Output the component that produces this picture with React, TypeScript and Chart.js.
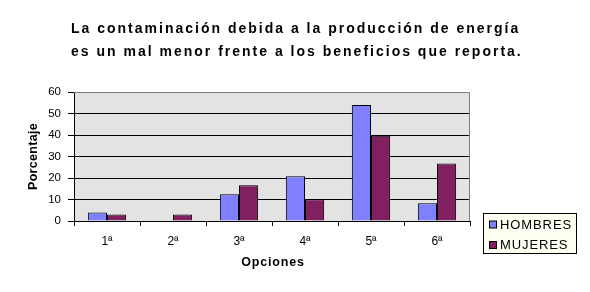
import React, { useEffect, useRef } from "react";
import { Chart, registerables } from "chart.js";

Chart.register(...registerables);

const categories = ["1ª", "2ª", "3ª", "4ª", "5ª", "6ª"];
const hombres = [4, 0, 12.4, 20.8, 54, 8.2];
const mujeres = [3, 3, 16.6, 10.1, 39.7, 26.8];
const seriesNames = ["HOMBRES", "MUJERES"];
const titleLines = [
  "La contaminación debida a la producción de energía",
  "es un mal menor frente a los beneficios que reporta.",
];
const yTitle = "Porcentaje";
const xTitle = "Opciones";
const yTicks = [0, 10, 20, 30, 40, 50, 60];

const FONT = "'Liberation Sans', Arial, sans-serif";
const COLORS = ["#8080FF", "#802060"];

const decorPlugin = {
  id: "decor",
  beforeDraw(chart: any) {
    const { ctx, chartArea: a } = chart;
    ctx.save();
    ctx.fillStyle = "#E3E3E3";
    ctx.fillRect(a.left, a.top, a.right - a.left, a.bottom - a.top);
    ctx.restore();
  },
  afterDraw(chart: any) {
    const { ctx, chartArea: a } = chart;
    ctx.save();
    ctx.strokeStyle = "#808080";
    ctx.lineWidth = 1;
    ctx.beginPath();
    ctx.moveTo(a.left, a.top + 0.5);
    ctx.lineTo(a.right - 0.5, a.top + 0.5);
    ctx.lineTo(a.right - 0.5, a.bottom);
    ctx.stroke();

    ctx.fillStyle = "#000";
    ctx.textAlign = "left";
    ctx.textBaseline = "alphabetic";
    ctx.font = `bold 14px ${FONT}`;
    (ctx as any).letterSpacing = "2px";
    ctx.fillText(titleLines[0], 71, 32.5);
    ctx.fillText(titleLines[1], 71, 55.5);

    ctx.font = `bold 12.5px ${FONT}`;
    (ctx as any).letterSpacing = "0.8px";
    ctx.textAlign = "center";
    ctx.fillText(xTitle, (a.left + a.right) / 2 + 1, 266);

    (ctx as any).letterSpacing = "0.3px";
    ctx.save();
    ctx.translate(36.5, (a.top + a.bottom) / 2);
    ctx.rotate(-Math.PI / 2);
    ctx.textAlign = "center";
    ctx.fillText(yTitle, 0, 0);
    ctx.restore();

    const lx = 483, ly = 213, lw = 94, lh = 41;
    ctx.fillStyle = "#FFFFF2";
    ctx.fillRect(lx, ly, lw, lh);
    ctx.strokeStyle = "#000";
    ctx.strokeRect(lx + 0.5, ly + 0.5, lw - 1, lh - 1);
    ctx.font = `13px ${FONT}`;
    (ctx as any).letterSpacing = "0.9px";
    ctx.textAlign = "left";
    ctx.textBaseline = "middle";
    const rows = [224.5, 245];
    chart.data.datasets.forEach((ds: any, i: number) => {
      const cy = rows[i];
      ctx.fillStyle = ds.backgroundColor;
      ctx.fillRect(489, cy - 3.5, 8, 7);
      ctx.strokeStyle = "#000";
      ctx.strokeRect(489.5, cy - 3.5, 7, 7);
      ctx.fillStyle = "#000";
      ctx.fillText(ds.label, 500, cy + 0.5);
    });
    (ctx as any).letterSpacing = "0px";
    ctx.restore();
  },
};

export default function App() {
  const ref = useRef<HTMLCanvasElement | null>(null);
  useEffect(() => {
    if (!ref.current) return;
    const chart = new Chart(ref.current, {
      type: "bar",
      data: {
        labels: categories,
        datasets: [
          {
            label: seriesNames[0],
            data: hombres,
            backgroundColor: COLORS[0],
            borderColor: "#000",
            borderWidth: 1,
            categoryPercentage: 0.58,
            barPercentage: 1,
          },
          {
            label: seriesNames[1],
            data: mujeres,
            backgroundColor: COLORS[1],
            borderColor: "#000",
            borderWidth: 1,
            categoryPercentage: 0.58,
            barPercentage: 1,
          },
        ],
      },
      options: {
        animation: false,
        responsive: false,
        maintainAspectRatio: false,
        layout: { padding: { left: 0, top: 92, right: 120, bottom: 0 } },
        plugins: {
          legend: { display: false },
          title: { display: false },
          tooltip: { enabled: false },
        },
        scales: {
          x: {
            offset: true,
            grid: {
              offset: true,
              drawOnChartArea: false,
              drawTicks: true,
              tickLength: 5,
              color: "#000",
            },
            border: { color: "#000", width: 1 },
            ticks: {
              color: "#000",
              font: { family: FONT, size: 12 },
              padding: 8,
              maxRotation: 0,
            },
            afterFit(scale: any) {
              scale.height = 71;
            },
          },
          y: {
            min: 0,
            max: 60,
            afterBuildTicks(scale: any) {
              scale.ticks = yTicks.map((v) => ({ value: v }));
            },
            grid: {
              color: (c: any) => (c.tick && c.tick.value === 60 ? "#808080" : "#000"),
              tickColor: "#000",
              tickLength: 6,
              drawTicks: true,
            },
            border: { color: "#000", width: 1 },
            ticks: {
              color: "#000",
              font: { family: FONT, size: 11.5 },
              padding: 7,
            },
            afterFit(scale: any) {
              scale.width = 74;
            },
          },
        },
      },
      plugins: [decorPlugin],
    });
    return () => chart.destroy();
  }, []);
  return (
    <div style={{ position: "absolute", left: 0, top: 0, width: 590, height: 292, background: "#fff" }}>
      <canvas ref={ref} width={590} height={292} style={{ width: 590, height: 292, display: "block" }} />
    </div>
  );
}
